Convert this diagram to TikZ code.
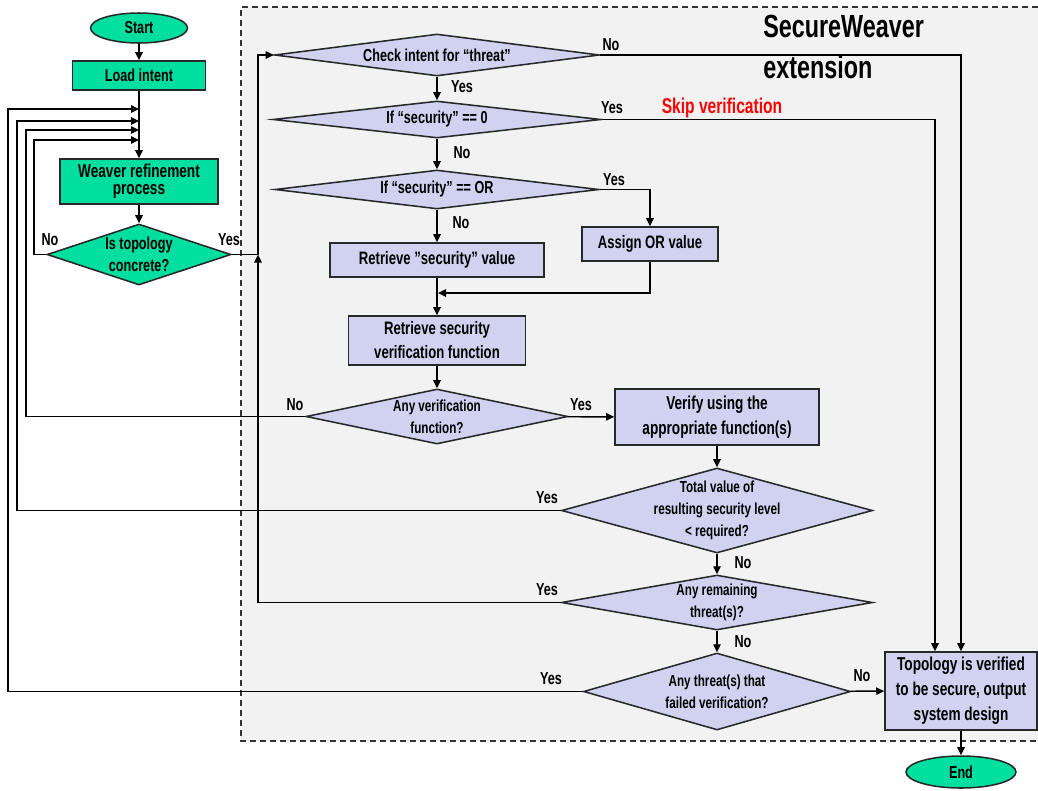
\documentclass[tikz,border=0pt]{standalone}
\usepackage{fontspec}
\setmainfont{Liberation Sans}[FakeStretch=0.73]
\usetikzlibrary{shapes.geometric,arrows.meta}
\definecolor{grn}{RGB}{0,222,160}
\definecolor{lav}{RGB}{208,210,240}
\definecolor{bgc}{RGB}{242,242,242}
\definecolor{edgec}{RGB}{40,40,40}
\newcommand\myfA{\bfseries\fontsize{13}{16}\selectfont}
\newcommand\myfB{\bfseries\fontsize{12}{16.3}\selectfont}
\newcommand\myfC{\bfseries\fontsize{13.5}{18}\selectfont}
\newcommand\myfD{\bfseries\fontsize{14}{18.75}\selectfont}
\begin{document}
\begin{tikzpicture}[x=0.75pt,y=-0.75pt,
  every node/.style={font=\myfA, inner sep=0pt},
  shp/.style={draw=edgec, line width=1.15pt},
  term/.style={shp, ellipse, fill=grn},
  gbox/.style={shp, rectangle, fill=grn, align=center},
  pbox/.style={shp, rectangle, fill=lav, align=center},
  dia/.style={shp, diamond, fill=lav},
  dlab/.style={align=center, font=\myfB},
  conn/.style={draw=black, line width=1.1pt},
  arr/.style={conn, -{Triangle[length=6pt,width=5.5pt]}},
  lbl/.style={font=\myfA}]
\useasboundingbox (0,0) rectangle (1038,790);
% extension area
\fill[bgc] (241,7) rectangle (1038,741);
\draw[draw=black!80, line width=1pt, dash pattern=on 4.5pt off 3pt] (1038,7) -- (241,7) -- (241,741) -- (1038,741);
\node[anchor=base west, font=\bfseries\fontsize{24}{30}\selectfont] (t1) at (763,37) {SecureWeaver};
\node[anchor=base west, font=\bfseries\fontsize{24}{30}\selectfont] (t2) at (763,78) {extension};

% left column
\node[term, minimum width=72.75pt, minimum height=22.5pt] (start) at (139,28) {Start};
\node[gbox, minimum width=99.75pt, minimum height=21.75pt] (load) at (139,75.5) {Load intent};
\node[gbox, minimum width=118.5pt, minimum height=33.75pt, font=\bfseries\fontsize{14}{12.75}\selectfont] (weaver) at (139,181.5) {Weaver refinement\\process};
\node[dia, fill=grn, minimum width=138pt, minimum height=45.75pt,
  label={[dlab, font=\bfseries\fontsize{13}{16.5}\selectfont]center:{Is topology\\concrete?}}] (topo) at (139,254.5) {};

% middle column
\node[dia, minimum width=243.75pt, minimum height=31.5pt,
  label={[dlab, font=\myfA]center:{Check intent for “threat”}}] (check) at (437,55) {};
\node[dia, minimum width=246pt, minimum height=27.75pt,
  label={[dlab, font=\myfA]center:{If “security” == 0}}] (sec0) at (437,119.5) {};
\node[dia, minimum width=243pt, minimum height=29.25pt,
  label={[dlab, font=\myfA]center:{If “security” == OR}}] (secor) at (437,189.5) {};
\node[pbox, minimum width=160.5pt, minimum height=25.5pt, font=\myfC] (retval) at (437,260) {Retrieve ”security” value};
\node[pbox, minimum width=102pt, minimum height=25.5pt, font=\myfC] (assign) at (650,244) {Assign OR value};
\node[pbox, minimum width=132.75pt, minimum height=36.75pt, font=\myfC] (retfun) at (437,340.5) {Retrieve security\\verification function};
\node[dia, minimum width=196.5pt, minimum height=41.25pt,
  label={[dlab]center:{Any verification\\function?}}] (anyver) at (437,416.5) {};

% right column
\node[pbox, minimum width=153pt, minimum height=42pt, font=\myfD] (verify) at (717,417) {Verify using the\\appropriate function(s)};
\node[dia, minimum width=233.25pt, minimum height=63.75pt,
  label={[dlab]center:{Total value of\\resulting security level\\< required?}}] (total) at (717,510.5) {};
\node[dia, minimum width=233.25pt, minimum height=41.25pt,
  label={[dlab]center:{Any remaining\\threat(s)?}}] (remain) at (717,602.5) {};
\node[dia, minimum width=200.25pt, minimum height=57.75pt,
  label={[dlab]center:{Any threat(s) that\\failed verification?}}] (failed) at (717,691.5) {};
\node[pbox, minimum width=114pt, minimum height=58.5pt, font=\myfD] (verified) at (961,691) {Topology is verified\\to be secure, output\\system design};
\node[term, minimum width=82.5pt, minimum height=24pt] (end) at (961,772) {End};

% coordinates
\coordinate (f1) at (139,109);
\coordinate (f2) at (139,121);
\coordinate (f3) at (139,130);
\coordinate (f4) at (139,140);
\coordinate (j) at (258,254.5);
\coordinate (m) at (438,293);
\coordinate (v1) at ([xshift=-19.5pt]verified.north);

% main flow
\draw[arr] (start) -- (load);
\draw[arr] (load) -- (weaver);
\draw[arr] (weaver) -- (topo);
\draw[arr] (failed.west) -- (8,691.5) |- (f1);
\draw[arr] (total.west) -- (17,510.5) |- (f2);
\draw[arr] (anyver.west) -- (26,416.5) |- (f3);
\draw[arr] (topo.west) -- (34,254.5) |- (f4);
\draw[conn] (topo.east) -- (j);
\draw[arr] (j) |- (check.west);
\draw[arr] (remain.west) -| (j);
\draw[arr] (check.east) -| (verified.north);
\draw[arr] (sec0.east) -| (v1);
\draw[arr] (check) -- (sec0);
\draw[arr] (sec0) -- (secor);
\draw[arr] (secor.east) -| (assign.north);
\draw[arr] (secor) -- (retval);
\draw[arr] (assign.south) |- (m);
\draw[arr] (retval) -- (retfun);
\draw[arr] (retfun) -- (anyver);
\draw[arr] (anyver) -- (verify);
\draw[arr] (verify) -- (total);
\draw[arr] (total) -- (remain);
\draw[arr] (remain) -- (failed);
\draw[arr] (failed) -- (verified);
\draw[arr] (verified) -- (end);

% labels
\node[lbl] (l1) at (50,240) {No};
\node[lbl] (l2) at (229,240) {Yes};
\node[lbl] (l3) at (611,45) {No};
\node[lbl] (l4) at (462,87) {Yes};
\node[lbl] (l5) at (612,108) {Yes};
\node[lbl, text=red, font=\bfseries\fontsize{16}{18}\selectfont] (skip) at (722,108) {Skip verification};
\node[lbl] (l6) at (462,153) {No};
\node[lbl] (l7) at (614,180) {Yes};
\node[lbl] (l8) at (461,223) {No};
\node[lbl] (l9) at (295,405) {No};
\node[lbl] (l10) at (581,405) {Yes};
\node[lbl] (l11) at (547,498) {Yes};
\node[lbl] (l12) at (743,563) {No};
\node[lbl] (l13) at (547,590) {Yes};
\node[lbl] (l14) at (743,642) {No};
\node[lbl] (l15) at (551,679) {Yes};
\node[lbl] (l16) at (862,676) {No};
\end{tikzpicture}
\end{document}
